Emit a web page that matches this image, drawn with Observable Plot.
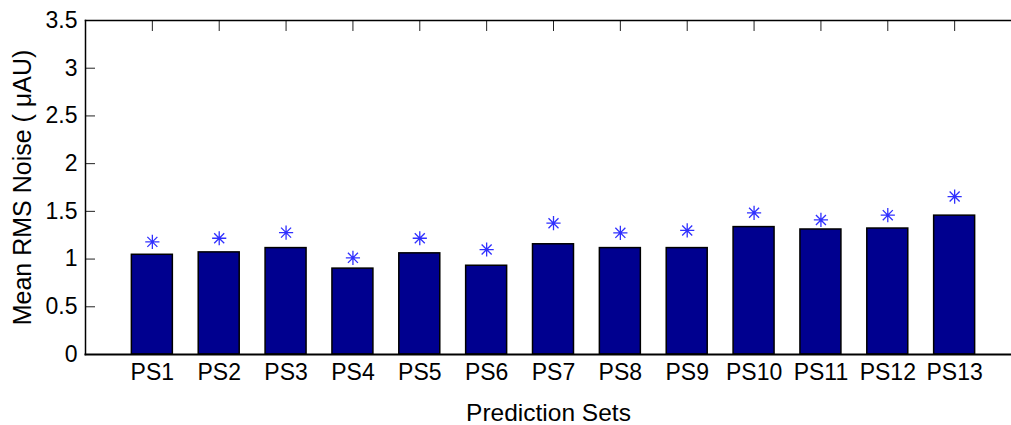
<!DOCTYPE html>
<html>
<head>
<meta charset="utf-8">
<script src="https://cdn.jsdelivr.net/npm/d3@7"></script>
<script src="https://cdn.jsdelivr.net/npm/@observablehq/plot@0.6"></script>
<style>
  html, body { margin: 0; padding: 0; background: #fff; overflow: hidden; }
  #chart svg { font-family: "Liberation Sans", Arial, sans-serif; }
</style>
</head>
<body>
<div id="chart"></div>
<script>
// Prediction set names
const sets = ["PS1","PS2","PS3","PS4","PS5","PS6","PS7","PS8","PS9","PS10","PS11","PS12","PS13"];
// Mean RMS noise per set (bars), µAU
const meanNoise = [1.045, 1.07, 1.115, 0.90, 1.06, 0.93, 1.155, 1.115, 1.115, 1.335, 1.31, 1.32, 1.455];
// Second estimate per set (asterisk markers), µAU
const markerNoise = [1.18, 1.218, 1.277, 1.013, 1.218, 1.10, 1.376, 1.275, 1.30, 1.485, 1.41, 1.46, 1.655];
// Y axis ticks
const yTicks = [0, 0.5, 1, 1.5, 2, 2.5, 3, 3.5];

const rows = sets.map((s, i) => ({set: s, bar: meanNoise[i], marker: markerNoise[i]}));

// Eight-armed asterisk (plus + cross), like a MATLAB "*" marker
const star8 = {
  draw(ctx, size) {
    const r = Math.sqrt(size) / 2;
    const d = r * Math.SQRT1_2;
    ctx.moveTo(-r, 0); ctx.lineTo(r, 0);
    ctx.moveTo(0, -r); ctx.lineTo(0, r);
    ctx.moveTo(-d, -d); ctx.lineTo(d, d);
    ctx.moveTo(-d, d); ctx.lineTo(d, -d);
  }
};

const chartW = 1011, chartH = 425;
const mLeft = 85, mTop = 20, mBottom = 71;

const chart = Plot.plot({
  width: chartW,
  height: chartH,
  marginLeft: mLeft,
  marginRight: 0,
  marginTop: mTop,
  marginBottom: mBottom,
  style: {fontSize: "23px", fontFamily: "Liberation Sans, Arial, sans-serif", color: "#000", background: "#fff"},
  x: {type: "band", domain: sets, range: [mLeft, 1021], paddingInner: 0.387, paddingOuter: 0.6935, round: false},
  y: {domain: [0, 3.5]},
  marks: [
    // inward tick stubs
    Plot.axisX({anchor: "bottom", tickSize: -10, tickFormat: () => "", label: null}),
    Plot.axisX({anchor: "top", tickSize: -10, tickFormat: () => "", label: null, stroke: "#222"}),
    Plot.axisY({anchor: "left", ticks: yTicks, tickSize: -10, tickFormat: () => "", label: null, stroke: "#222"}),
    Plot.barY(rows, {x: "set", y: "bar", fill: "#00008f", stroke: "#000", strokeWidth: 1.5}),
    Plot.dot(rows, {x: "set", y: "marker", symbol: star8, r: 8, stroke: "#3030ff", strokeWidth: 1.3}),
    Plot.frame({anchor: "left", strokeWidth: 1.5}),
    Plot.frame({anchor: "top", strokeWidth: 1.5}),
    Plot.frame({anchor: "bottom", strokeWidth: 2}),
    // tick labels
    Plot.axisY({anchor: "left", ticks: yTicks, tickSize: 0, tickPadding: 8, tickFormat: d => String(d),
      fontSize: 23, label: null}),
    Plot.axisX({anchor: "bottom", tickSize: 0, tickPadding: 9, fontSize: 23, label: null}),
    // axis titles
    Plot.axisY({anchor: "left", ticks: [], tickSize: 0, fontSize: 25,
      label: "Mean RMS Noise ( \u03bcAU)", labelArrow: "none", labelAnchor: "center", labelOffset: 72}),
    Plot.axisX({anchor: "bottom", ticks: [], tickSize: 0, fontSize: 24.5,
      label: "Prediction Sets", labelArrow: "none", labelAnchor: "center", labelOffset: 66})
  ]
});

document.getElementById("chart").appendChild(chart);
</script>
</body>
</html>
